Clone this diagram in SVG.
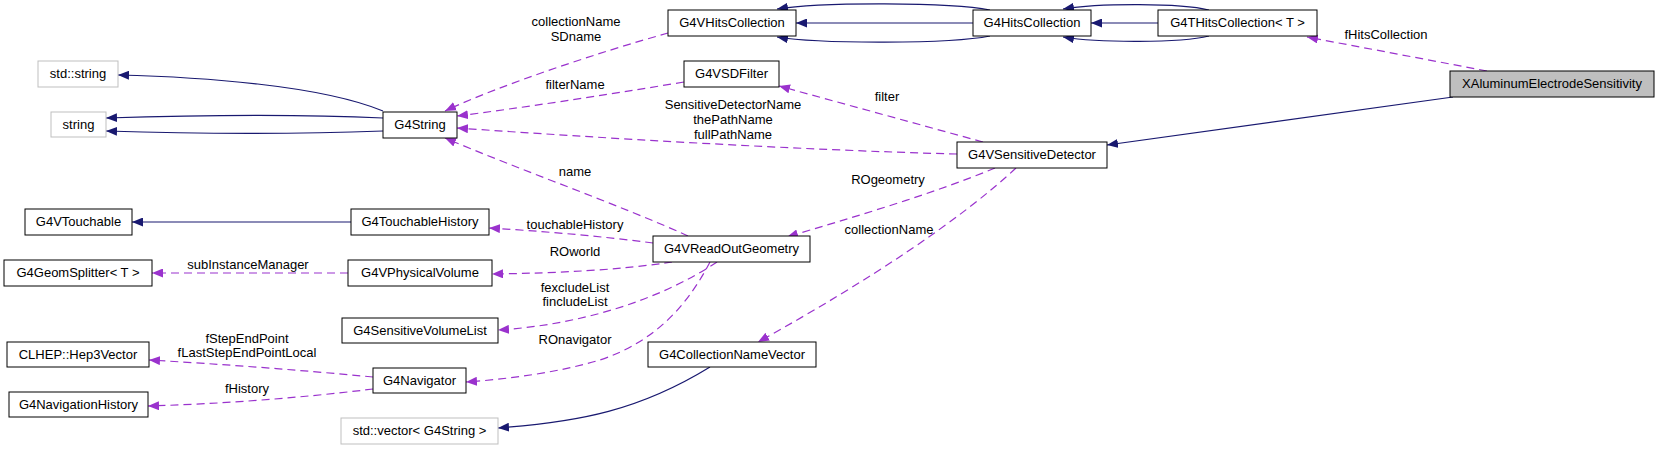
<svg xmlns="http://www.w3.org/2000/svg" width="1659" height="450" viewBox="0 0 1659 450">
<style>
text{font-family:"Liberation Sans",Arial,sans-serif;font-size:13px;fill:#000;}
.n text{text-anchor:middle;}
.lbl{text-anchor:middle;}
.box{fill:#fff;stroke:#000;stroke-width:1;}
.grey{fill:#fff;stroke:#bfbfbf;stroke-width:1;}
.main{fill:#bfbfbf;stroke:#000;stroke-width:1;}
.s{fill:none;stroke:#191970;stroke-width:1.2;marker-end:url(#ab);}
.d{fill:none;stroke:#9a32cd;stroke-width:1.2;stroke-dasharray:8,5;marker-end:url(#ap);}
</style>
<defs>
<marker id="ab" markerUnits="userSpaceOnUse" markerWidth="12" markerHeight="9" refX="11" refY="4.5" orient="auto"><path d="M0,0 L11,4.5 L0,9 z" fill="#191970"/></marker>
<marker id="ap" markerUnits="userSpaceOnUse" markerWidth="12" markerHeight="9" refX="11" refY="4.5" orient="auto"><path d="M0,0 L11,4.5 L0,9 z" fill="#9a32cd"/></marker>
</defs>
<rect width="1659" height="450" fill="#fff"/>
<g id="edges">
<path class="s" d="M1453,97 L1107,145"/>
<path class="d" d="M1487,71 L1307,37"/>
<path class="s" d="M1209,10 C1180,3 1100,3 1063,9"/>
<path class="s" d="M1158,23 L1091,23"/>
<path class="s" d="M1209,36 C1180,43 1100,43 1063,37"/>
<path class="s" d="M990,10 C950,2 820,2 777,9"/>
<path class="s" d="M973,23 L796,23"/>
<path class="s" d="M990,36 C950,44 820,44 777,37"/>
<path class="s" d="M383,111 C320,85 200,77 118,75"/>
<path class="s" d="M383,118 C300,114 200,115 106,118"/>
<path class="s" d="M383,131 C300,134 200,134 106,131"/>
<path class="d" d="M668,33 C600,52 500,85 445,111"/>
<path class="d" d="M684,82 C600,96 520,108 457,116"/>
<path class="d" d="M957,154 C800,150 600,138 457,128"/>
<path class="d" d="M688,236 C620,205 520,170 445,138"/>
<path class="d" d="M983,142 L779,86"/>
<path class="d" d="M995,168 C930,195 850,218 787,237"/>
<path class="d" d="M1016,168 C960,220 870,280 758,342"/>
<path class="d" d="M653,243 C600,236 540,231 489,228"/>
<path class="d" d="M672,262 C620,270 560,273 492,274"/>
<path class="d" d="M717,262 C660,300 580,325 498,330"/>
<path class="d" d="M710,262 C690,300 660,340 600,360 C560,372 510,379 466,382"/>
<path class="d" d="M373,377 C300,370 220,364 149,360"/>
<path class="d" d="M373,389 C300,398 220,404 148,406"/>
<path class="s" d="M710,367 C640,410 580,422 498,428"/>
<path class="s" d="M351,222 L132,222"/>
<path class="d" d="M348,273 L152,273"/>
<text class="lbl" x="1386" y="39">fHitsCollection</text>
<text class="lbl" x="576" y="26">collectionName</text>
<text class="lbl" x="576" y="41">SDname</text>
<text class="lbl" x="575" y="89">filterName</text>
<text class="lbl" x="733" y="109">SensitiveDetectorName</text>
<text class="lbl" x="733" y="124">thePathName</text>
<text class="lbl" x="733" y="139">fullPathName</text>
<text class="lbl" x="887" y="101">filter</text>
<text class="lbl" x="575" y="176">name</text>
<text class="lbl" x="575" y="229">touchableHistory</text>
<text class="lbl" x="575" y="256">ROworld</text>
<text class="lbl" x="575" y="292">fexcludeList</text>
<text class="lbl" x="575" y="306">fincludeList</text>
<text class="lbl" x="575" y="344">ROnavigator</text>
<text class="lbl" x="888" y="184">ROgeometry</text>
<text class="lbl" x="889" y="234">collectionName</text>
<text class="lbl" x="248" y="269">subInstanceManager</text>
<text class="lbl" x="247" y="343">fStepEndPoint</text>
<text class="lbl" x="247" y="357">fLastStepEndPointLocal</text>
<text class="lbl" x="247" y="393">fHistory</text>
</g>
<g id="XAluminumElectrodeSensitivity" class="n"><rect class="main" x="1450" y="71" width="204" height="26"/><text x="1552" y="88">XAluminumElectrodeSensitivity</text></g>
<g id="G4VSensitiveDetector" class="n"><rect class="box" x="957" y="142" width="150" height="26"/><text x="1032" y="159">G4VSensitiveDetector</text></g>
<g id="G4THitsCollection" class="n"><rect class="box" x="1158" y="10" width="159" height="26"/><text x="1237.5" y="27">G4THitsCollection&lt; T &gt;</text></g>
<g id="G4HitsCollection" class="n"><rect class="box" x="973" y="10" width="118" height="26"/><text x="1032" y="27">G4HitsCollection</text></g>
<g id="G4VHitsCollection" class="n"><rect class="box" x="668" y="10" width="128" height="26"/><text x="732" y="27">G4VHitsCollection</text></g>
<g id="G4VSDFilter" class="n"><rect class="box" x="684" y="61" width="95" height="26"/><text x="731.5" y="78">G4VSDFilter</text></g>
<g id="G4String" class="n"><rect class="box" x="383" y="112" width="74" height="26"/><text x="420" y="129">G4String</text></g>
<g id="std_string" class="n"><rect class="grey" x="38" y="61" width="80" height="26"/><text x="78" y="78">std::string</text></g>
<g id="string" class="n"><rect class="grey" x="51" y="112" width="55" height="25"/><text x="78.5" y="129">string</text></g>
<g id="G4VTouchable" class="n"><rect class="box" x="25" y="209" width="107" height="26"/><text x="78.5" y="226">G4VTouchable</text></g>
<g id="G4TouchableHistory" class="n"><rect class="box" x="351" y="209" width="138" height="26"/><text x="420" y="226">G4TouchableHistory</text></g>
<g id="G4GeomSplitter" class="n"><rect class="box" x="4" y="260" width="148" height="26"/><text x="78" y="277">G4GeomSplitter&lt; T &gt;</text></g>
<g id="G4VPhysicalVolume" class="n"><rect class="box" x="348" y="260" width="144" height="26"/><text x="420" y="277">G4VPhysicalVolume</text></g>
<g id="G4VReadOutGeometry" class="n"><rect class="box" x="653" y="236" width="157" height="26"/><text x="731.5" y="253">G4VReadOutGeometry</text></g>
<g id="G4SensitiveVolumeList" class="n"><rect class="box" x="342" y="318" width="156" height="25"/><text x="420" y="335">G4SensitiveVolumeList</text></g>
<g id="G4Navigator" class="n"><rect class="box" x="373" y="368" width="93" height="25"/><text x="419.5" y="385">G4Navigator</text></g>
<g id="G4CollectionNameVector" class="n"><rect class="box" x="648" y="342" width="168" height="25"/><text x="732" y="359">G4CollectionNameVector</text></g>
<g id="CLHEP_Hep3Vector" class="n"><rect class="box" x="7" y="342" width="142" height="25"/><text x="78" y="359">CLHEP::Hep3Vector</text></g>
<g id="G4NavigationHistory" class="n"><rect class="box" x="9" y="392" width="139" height="25"/><text x="78.5" y="409">G4NavigationHistory</text></g>
<g id="std_vector_G4String" class="n"><rect class="grey" x="341" y="418" width="157" height="26"/><text x="419.5" y="435">std::vector&lt; G4String &gt;</text></g>
</svg>
